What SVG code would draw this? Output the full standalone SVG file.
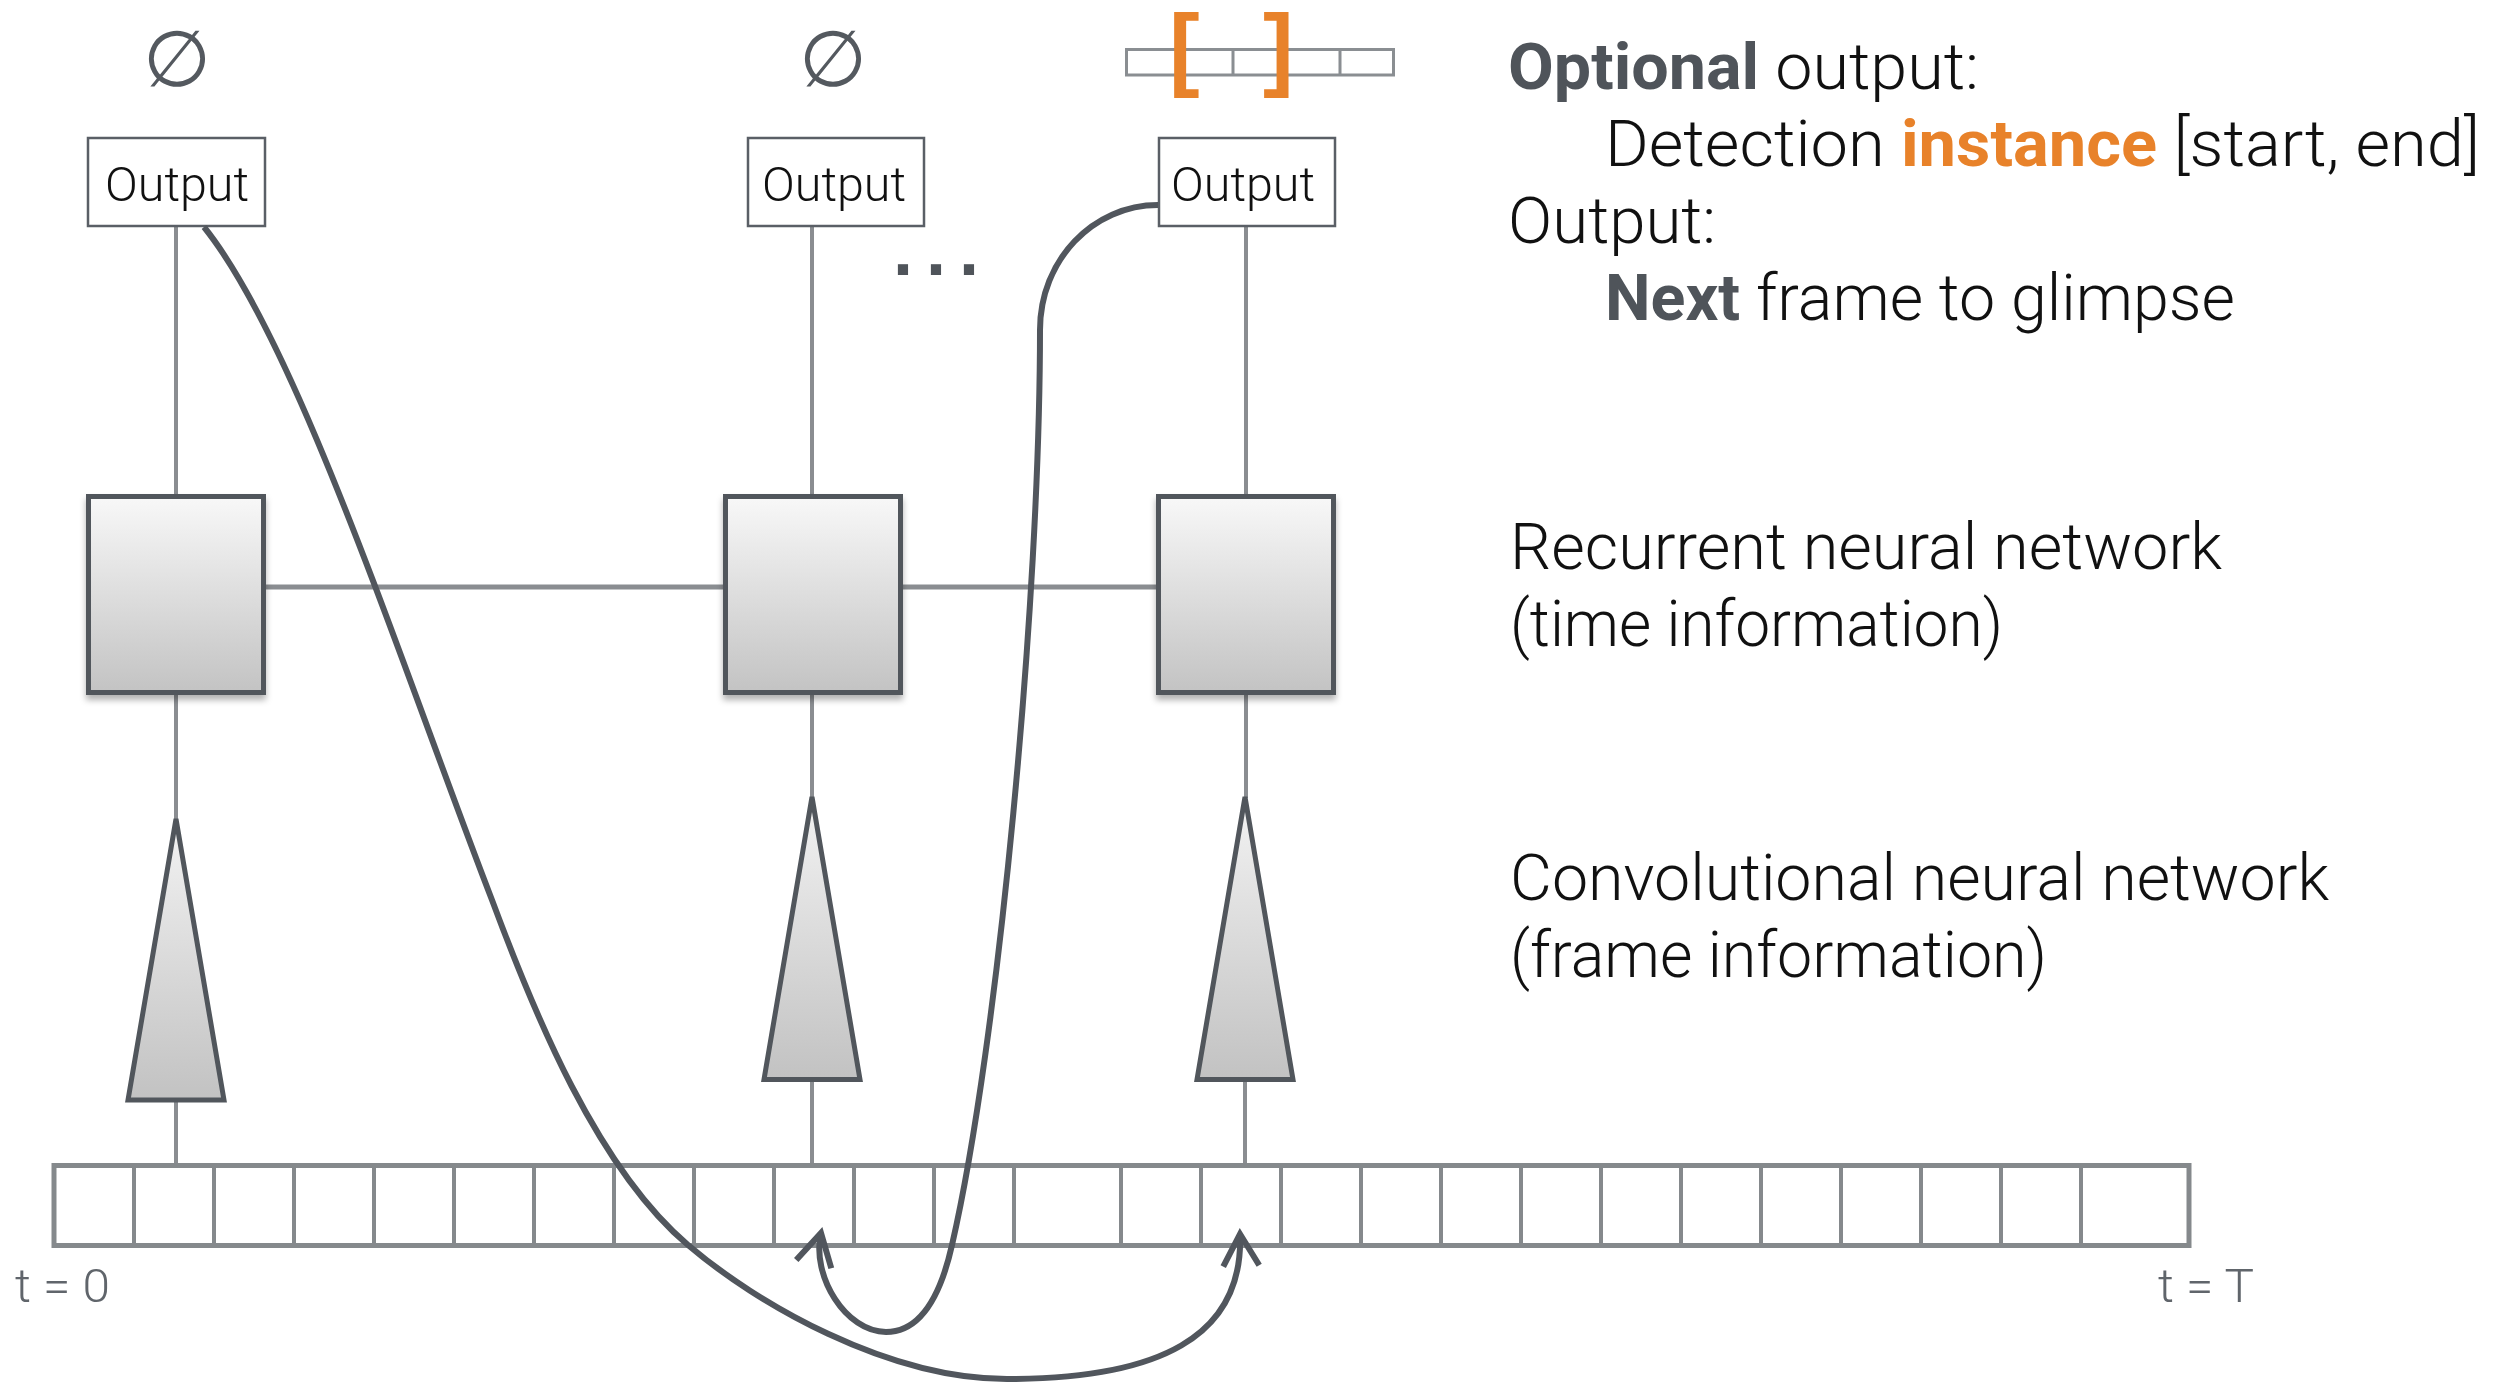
<svg xmlns="http://www.w3.org/2000/svg" width="2514" height="1382" viewBox="0 0 2514 1382">
  <defs>
    <style>
      .txt { font-family: Roboto, "Liberation Sans", Arial, sans-serif; font-weight: 300; fill: #111; }
      .sym { font-family: "Liberation Sans", Arial, sans-serif; font-weight: bold; }
      .big { font-size: 64px; }
      .bold { font-weight: bold; }
      .dark { fill: #4f545a; }
      .orange { fill: #e8822a; }
      .tick { font-size: 47px; fill: #60656b; }
      .outbox { fill: #fff; stroke: #5a5f66; stroke-width: 2.5; }
      .outlbl { font-size: 48px; text-anchor: middle; }
      .rnn { fill: url(#boxGrad); stroke: #51565c; stroke-width: 5; filter: url(#shadow); }
      .cnn { fill: url(#triGrad); stroke: #51565c; stroke-width: 5; stroke-linejoin: miter; }
      .thin { stroke: #8a8d91; stroke-width: 4; fill: none; }
      .link { stroke: #8a8d91; stroke-width: 5; fill: none; }
      .jump { stroke: #51565d; stroke-width: 6; fill: none; marker-end: url(#arrow); }
      .null { font-family: "DejaVu Sans", sans-serif; font-size: 78px; fill: #54595f; text-anchor: middle; }
    </style>
    <linearGradient id="boxGrad" x1="0" y1="0" x2="0" y2="1">
      <stop offset="0" stop-color="#f8f8f8"/>
      <stop offset="1" stop-color="#c3c3c3"/>
    </linearGradient>
    <linearGradient id="triGrad" x1="0" y1="0" x2="0" y2="1">
      <stop offset="0" stop-color="#f3f3f3"/>
      <stop offset="1" stop-color="#c2c2c2"/>
    </linearGradient>
    <filter id="shadow" x="-20%" y="-20%" width="140%" height="150%">
      <feDropShadow dx="0" dy="5" stdDeviation="3" flood-color="#000" flood-opacity="0.3"/>
    </filter>
    <marker id="arrow" markerUnits="userSpaceOnUse" viewBox="-40 -40 80 80" markerWidth="80" markerHeight="80" refX="0" refY="0" orient="auto" overflow="visible">
      <path d="M -32 -18 L 0 0 L -32 18" fill="none" stroke="#51565d" stroke-width="6" stroke-linejoin="miter"/>
    </marker>
  </defs>

  <rect width="2514" height="1382" fill="#fff"/>

  <!-- thin vertical and horizontal links between layers -->
  <g id="connectors">
    <path class="thin" d="M176 227 V496 M812 227 V496 M1246 227 V496"/>
    <path class="thin" d="M176 694 V820 M812 694 V798 M1246 694 V798"/>
    <path class="thin" d="M176 1100 V1166 M812 1080 V1166 M1245 1080 V1166"/>
    <path class="link" d="M176 587 H1246"/>
  </g>

  <!-- output heads -->
  <g id="output-1">
    <rect class="outbox" x="88" y="138" width="177" height="88"/>
    <text class="txt outlbl" x="177" y="201" textLength="144" lengthAdjust="spacingAndGlyphs">Output</text>
  </g>
  <g id="output-2">
    <rect class="outbox" x="748" y="138" width="176" height="88"/>
    <text class="txt outlbl" x="834" y="201" textLength="144" lengthAdjust="spacingAndGlyphs">Output</text>
  </g>
  <g id="output-3">
    <rect class="outbox" x="1159" y="138" width="176" height="88"/>
    <text class="txt outlbl" x="1243" y="201" textLength="144" lengthAdjust="spacingAndGlyphs">Output</text>
  </g>

  <!-- empty-set results and detection span -->
  <g id="result-1"><text class="null" x="177" y="86">∅</text></g>
  <g id="result-2"><text class="null" x="833" y="86">∅</text></g>
  <g id="result-3">
    <rect x="1126.5" y="49.5" width="267" height="25.5" fill="#fff" stroke="#8a8e92" stroke-width="3"/>
    <path d="M1180 49.5 V75 M1233 49.5 V75 M1286.5 49.5 V75 M1340 49.5 V75" stroke="#8a8e92" stroke-width="3"/>
    <text class="sym orange" x="1169" y="79" font-size="92">[</text>
    <text class="sym orange" x="1263" y="79" font-size="92">]</text>
  </g>

  <g id="ellipsis"><text class="sym dark" x="893" y="275" font-size="72" letter-spacing="13">...</text></g>

  <!-- recurrent cells -->
  <g id="rnn-1"><rect class="rnn" x="88.5" y="496.5" width="175" height="196"/></g>
  <g id="rnn-2"><rect class="rnn" x="725.5" y="496.5" width="175" height="196"/></g>
  <g id="rnn-3"><rect class="rnn" x="1158.5" y="496.5" width="175" height="196"/></g>

  <!-- convolutional towers -->
  <g id="cnn-1"><polygon class="cnn" points="176,819 224,1100 128,1100"/></g>
  <g id="cnn-2"><polygon class="cnn" points="812,797 860,1079.5 764,1079.5"/></g>
  <g id="cnn-3"><polygon class="cnn" points="1245,797 1293,1079.5 1197,1079.5"/></g>

  <!-- frame sequence -->
  <g id="frames">
    <rect x="54" y="1165.5" width="2135" height="80" fill="#fff" stroke="#85898c" stroke-width="5"/>
    <path stroke="#85898c" stroke-width="4" d="M134 1166V1245 M214 1166V1245 M294 1166V1245 M374 1166V1245 M454 1166V1245 M534 1166V1245 M614 1166V1245 M694 1166V1245 M774 1166V1245 M854 1166V1245 M934 1166V1245 M1014 1166V1245 M1121 1166V1245 M1201 1166V1245 M1281 1166V1245 M1361 1166V1245 M1441 1166V1245 M1521 1166V1245 M1601 1166V1245 M1681 1166V1245 M1761 1166V1245 M1841 1166V1245 M1921 1166V1245 M2001 1166V1245 M2081 1166V1245"/>
    <text class="txt tick" x="15" y="1302" textLength="95" lengthAdjust="spacingAndGlyphs">t = 0</text>
    <text class="txt tick" x="2158" y="1302" textLength="96" lengthAdjust="spacingAndGlyphs">t = T</text>
  </g>

  <!-- glimpse jumps -->
  <g id="jumps">
    <path class="jump" d="M204 227 C298 344 402 667 492 900 C534 1013 597 1168 688 1245 C756 1303 887 1379 1007 1379 C1157 1379 1244 1338 1240 1234"/>
    <path class="jump" d="M1158 205 C1093 205 1040 260 1040 330 C1040 600 998 1045 952 1245 C941 1294 921 1332 886 1332 C846 1332 811 1276 821 1233"/>
  </g>

  <!-- legend text -->
  <g id="legend">
    <text class="txt big" x="1508" y="89" textLength="471" lengthAdjust="spacingAndGlyphs"><tspan class="bold dark">Optional</tspan> output:</text>
    <text class="txt big" x="1605" y="166" textLength="875" lengthAdjust="spacingAndGlyphs">Detection <tspan class="bold orange">instance</tspan> [start, end]</text>
    <text class="txt big" x="1508" y="243" textLength="208" lengthAdjust="spacingAndGlyphs">Output:</text>
    <text class="txt big" x="1605" y="320" textLength="630" lengthAdjust="spacingAndGlyphs"><tspan class="bold dark">Next</tspan> frame to glimpse</text>
    <text class="txt big" x="1510" y="569" textLength="712" lengthAdjust="spacingAndGlyphs">Recurrent neural network</text>
    <text class="txt big" x="1510" y="646" textLength="493" lengthAdjust="spacingAndGlyphs">(time information)</text>
    <text class="txt big" x="1510" y="900" textLength="819" lengthAdjust="spacingAndGlyphs">Convolutional neural network</text>
    <text class="txt big" x="1510" y="977" textLength="537" lengthAdjust="spacingAndGlyphs">(frame information)</text>
  </g>
</svg>
